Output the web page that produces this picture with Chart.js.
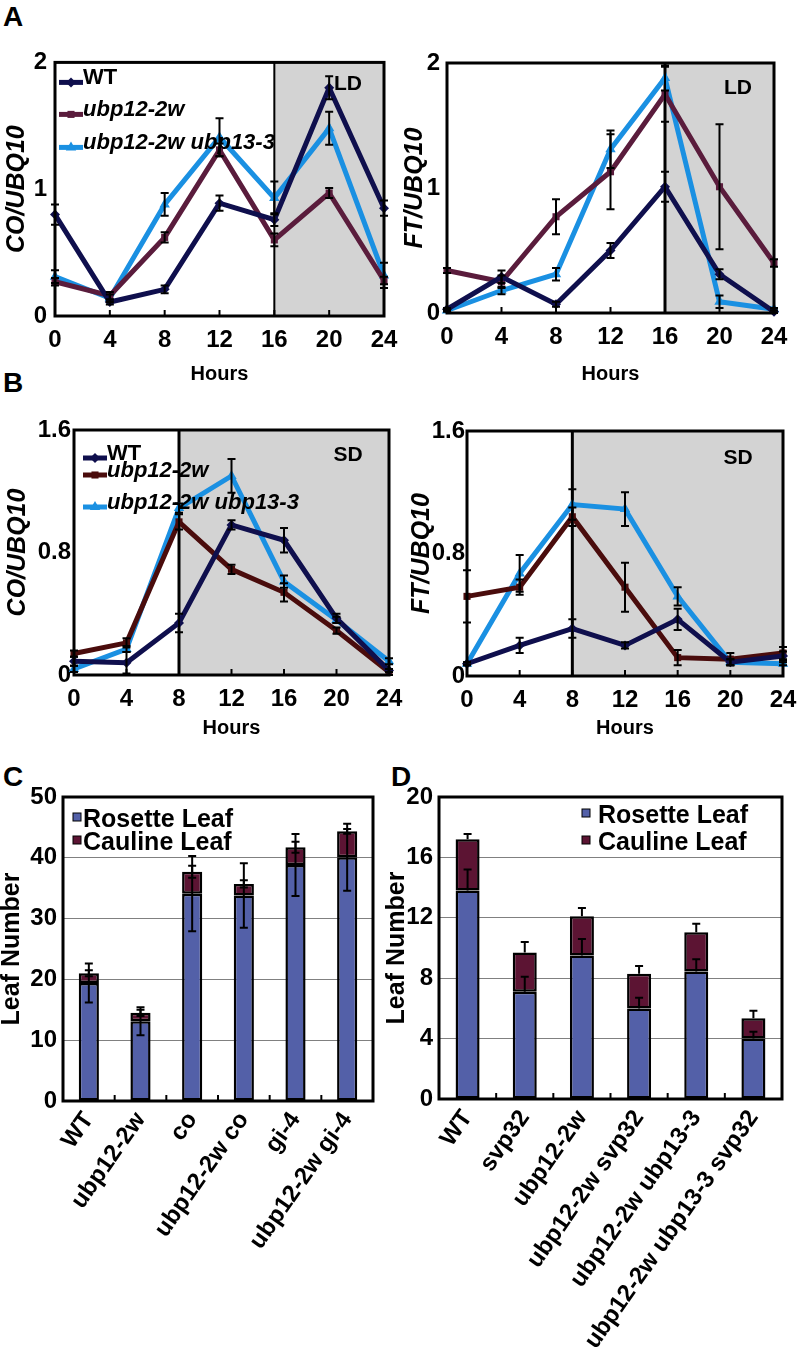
<!DOCTYPE html>
<html>
<head>
<meta charset="utf-8">
<script src="https://cdn.jsdelivr.net/npm/chart.js@4.4.0/dist/chart.umd.min.js"></script>
<style>
  body { margin: 0; background: #fff; }
  #fig { position: relative; width: 797px; height: 1356px; font-family: 'Liberation Sans', Arial, sans-serif; }
  .box { position: absolute; }
  .tag { position: absolute; font-weight: bold; font-size: 28px; line-height: 28px; }
</style>
</head>
<body>
<div id="fig">
  <div class="tag" style="left:3px;top:3px">A</div>
  <div class="tag" style="left:3px;top:369px">B</div>
  <div class="tag" style="left:3px;top:763px">C</div>
  <div class="tag" style="left:391px;top:763px">D</div>

  <div class="box" style="left:0;top:40px;width:402px;height:350px"><canvas id="coLD"></canvas></div>
  <div class="box" style="left:395px;top:40px;width:402px;height:350px"><canvas id="ftLD"></canvas></div>
  <div class="box" style="left:0;top:400px;width:405px;height:340px"><canvas id="coSD"></canvas></div>
  <div class="box" style="left:395px;top:400px;width:402px;height:340px"><canvas id="ftSD"></canvas></div>
  <div class="box" style="left:0;top:760px;width:395px;height:596px"><canvas id="leafC"></canvas></div>
  <div class="box" style="left:385px;top:760px;width:412px;height:596px"><canvas id="leafD"></canvas></div>
</div>

<script>
// ---- data ----
const hours = [0, 4, 8, 12, 16, 20, 24];
const seriesNames = ['WT', 'ubp12-2w', 'ubp12-2w ubp13-3'];
const yTicksLD = [0, 1, 2];
const yTicksSD = [0, 0.8, 1.6];

// A: long day
const coLD_wt     = [0.80, 0.11, 0.21, 0.89, 0.76, 1.80, 0.85];
const coLD_ubp12  = [0.27, 0.16, 0.62, 1.31, 0.60, 0.97, 0.28];
const coLD_double = [0.31, 0.14, 0.88, 1.41, 0.93, 1.48, 0.32];
const coLD_wtErr     = [0.08, 0.02, 0.03, 0.06, 0.05, 0.09, 0.06];
const coLD_ubp12Err  = [0.03, 0.03, 0.04, 0.05, 0.05, 0.04, 0.03];
const coLD_doubleErr = [0.05, 0.03, 0.09, 0.15, 0.13, 0.13, 0.10];

const ftLD_wt     = [0.03, 0.29, 0.07, 0.50, 1.01, 0.31, 0.01];
const ftLD_ubp12  = [0.34, 0.25, 0.77, 1.13, 1.75, 1.01, 0.40];
const ftLD_double = [0.02, 0.18, 0.31, 1.31, 1.88, 0.09, 0.03];
const ftLD_wtErr     = [0.01, 0.05, 0.02, 0.06, 0.12, 0.04, 0.01];
const ftLD_ubp12Err  = [0.02, 0.05, 0.14, 0.30, 0.22, 0.50, 0.03];
const ftLD_doubleErr = [0.01, 0.03, 0.05, 0.15, 0.10, 0.05, 0.01];

// B: short day
const coSD_wt     = [0.09, 0.08, 0.34, 0.98, 0.88, 0.37, 0.03];
const coSD_ubp12  = [0.14, 0.21, 1.00, 0.69, 0.54, 0.29, 0.02];
const coSD_double = [0.04, 0.17, 1.09, 1.30, 0.61, 0.36, 0.09];
const coSD_wtErr     = [0.03, 0.07, 0.06, 0.03, 0.08, 0.03, 0.01];
const coSD_ubp12Err  = [0.02, 0.03, 0.05, 0.03, 0.06, 0.02, 0.02];
const coSD_doubleErr = [0.02, 0.02, 0.03, 0.11, 0.04, 0.02, 0.02];

const ftSD_wt     = [0.08, 0.20, 0.31, 0.20, 0.37, 0.09, 0.13];
const ftSD_ubp12  = [0.52, 0.58, 1.04, 0.58, 0.12, 0.11, 0.15];
const ftSD_double = [0.08, 0.67, 1.12, 1.09, 0.52, 0.09, 0.08];
const ftSD_wtErr     = [0.01, 0.05, 0.06, 0.02, 0.07, 0.02, 0.03];
const ftSD_ubp12Err  = [0.17, 0.05, 0.06, 0.16, 0.05, 0.04, 0.04];
const ftSD_doubleErr = [0.01, 0.12, 0.10, 0.11, 0.06, 0.02, 0.01];

// C, D: leaf numbers
const leafLabels = ['Rosette Leaf', 'Cauline Leaf'];
const catC = ['WT', 'ubp12-2w', 'co', 'ubp12-2w co', 'gi-4', 'ubp12-2w gi-4'];
const rosetteC = [19.4, 13.1, 34.1, 33.8, 38.8, 40.1];
const caulineC = [1.6, 1.4, 3.6, 1.9, 2.95, 4.25];
const rosetteErrC = [3.2, 2.3, 6.2, 5.3, 5.1, 5.5];
const totalErrC = [0.5, 0.5, 1.0, 0.6, 0.9, 0.4];
const yTicksC = [0, 10, 20, 30, 40, 50];

const catD = ['WT', 'svp32', 'ubp12-2w', 'ubp12-2w svp32', 'ubp12-2w ubp13-3', 'ubp12-2w ubp13-3 svp32'];
const rosetteD = [13.8, 7.1, 9.5, 6.0, 8.45, 4.0];
const caulineD = [3.4, 2.6, 2.6, 2.3, 2.6, 1.35];
const rosetteErrD = [1.4, 1.0, 1.1, 0.7, 0.8, 0.45];
const totalErrD = [0.35, 0.7, 0.55, 0.5, 0.55, 0.5];
const yTicksD = [0, 4, 8, 12, 16, 20];

// ---- styles ----
const FONT = "'Liberation Sans', Arial, sans-serif";
const WT_COLOR = '#0f0f4d';
const DOUBLE_COLOR = '#1a90e2';
const ROSETTE_COLOR = '#5360a8';
const CAULINE_COLOR = '#5c1433';

Chart.defaults.font.family = FONT;
Chart.defaults.color = '#000';
Chart.defaults.animation = false;
Chart.defaults.maintainAspectRatio = false;
Chart.defaults.plugins.legend.display = false;
Chart.defaults.plugins.tooltip.enabled = false;

// shading, error bars, frame, in-plot legend and day tags
const decor = {
  id: 'decor',
  beforeDatasetsDraw(chart, args, o) {
    const { ctx, chartArea: a, scales: { x } } = chart;
    if (o.shadeFrom == null) return;
    const sx = x.getPixelForValue(o.shadeFrom);
    ctx.save();
    ctx.fillStyle = '#d3d3d3';
    ctx.fillRect(sx, a.top, a.right - sx, a.bottom - a.top);
    ctx.strokeStyle = '#000';
    ctx.lineWidth = o.shadeLine;
    ctx.beginPath();
    ctx.moveTo(sx, a.top);
    ctx.lineTo(sx, a.bottom);
    ctx.stroke();
    ctx.restore();
  },
  afterDatasetsDraw(chart, args, o) {
    const { ctx, chartArea: a, scales: { x, y } } = chart;
    ctx.save();
    ctx.strokeStyle = '#000';

    // error bars
    ctx.lineWidth = 2;
    const pts = chart.getDatasetMeta(0).data;
    (o.errors || []).forEach(set => {
      set.vals.forEach((v, i) => {
        const px = pts[i].x;
        const y0 = y.getPixelForValue(set.up ? v : v - set.err[i]);
        const y1 = y.getPixelForValue(v + set.err[i]);
        ctx.beginPath();
        ctx.moveTo(px, y0); ctx.lineTo(px, y1);
        ctx.moveTo(px - 4, y1); ctx.lineTo(px + 4, y1);
        if (!set.up) { ctx.moveTo(px - 4, y0); ctx.lineTo(px + 4, y0); }
        ctx.stroke();
      });
    });

    // small inward ticks on the bottom axis
    ctx.lineWidth = 2;
    (o.innerTicks || []).forEach(v => {
      const px = x.getPixelForValue(v);
      ctx.beginPath();
      ctx.moveTo(px, a.bottom); ctx.lineTo(px, a.bottom - 6);
      ctx.stroke();
    });

    // frame
    ctx.lineWidth = 3;
    ctx.strokeRect(a.left, a.top, a.right - a.left, a.bottom - a.top);

    // LD / SD
    if (o.tag) {
      ctx.fillStyle = '#000';
      ctx.font = 'bold 21px ' + FONT;
      ctx.textAlign = 'center';
      ctx.textBaseline = 'middle';
      ctx.fillText(o.tag.text, a.right - o.tag.dx, a.top + o.tag.dy);
    }

    // line legend
    if (o.lineLegend) {
      const L = o.lineLegend;
      chart.data.datasets.forEach((ds, i) => {
        const ly = a.top + L.rows[i];
        ctx.strokeStyle = ds.borderColor;
        ctx.lineWidth = 5;
        ctx.beginPath();
        ctx.moveTo(a.left + L.dx, ly); ctx.lineTo(a.left + L.dx + 24, ly);
        ctx.stroke();
        ctx.fillStyle = ds.borderColor;
        Chart.helpers.drawPoint(ctx, { pointStyle: ds.pointStyle, radius: ds.pointRadius, rotation: 0, borderWidth: 0 },
          a.left + L.dx + 12, ly);
        ctx.fillStyle = '#000';
        ctx.font = (i === 0 ? 'bold ' : 'italic bold ') + '22px ' + FONT;
        ctx.textAlign = 'left';
        ctx.textBaseline = 'middle';
        ctx.fillText(ds.label, a.left + L.textDx, ly - 4);
      });
    }

    // bar legend
    if (o.barLegend) {
      const L = o.barLegend;
      chart.data.datasets.forEach((ds, i) => {
        const ly = a.top + L.rows[i];
        ctx.fillStyle = ds.backgroundColor;
        ctx.fillRect(a.left + L.dx - 4, ly - 7, 8, 8);
        ctx.lineWidth = 1;
        ctx.strokeStyle = '#000';
        ctx.strokeRect(a.left + L.dx - 4, ly - 7, 8, 8);
        ctx.fillStyle = '#000';
        ctx.font = 'bold 25px ' + FONT;
        ctx.textAlign = 'left';
        ctx.textBaseline = 'middle';
        ctx.fillText(ds.label, a.left + L.textDx, ly);
      });
    }
    ctx.restore();
  }
};

function fixedTicks(list) {
  return s => { s.ticks = list.map(v => ({ value: v })); };
}

function lineChart(id, o) {
  const styles = [
    { color: WT_COLOR, point: 'rectRot', r: 5 },
    { color: o.ubpColor, point: 'rect', r: 5 },
    { color: DOUBLE_COLOR, point: 'triangle', r: 6 }
  ];
  return new Chart(document.getElementById(id), {
    type: 'line',
    data: {
      datasets: o.series.map((vals, i) => ({
        label: seriesNames[i],
        data: hours.map((h, j) => ({ x: h, y: vals[j] })),
        borderColor: styles[i].color,
        backgroundColor: styles[i].color,
        borderWidth: 5,
        pointStyle: styles[i].point,
        pointRadius: styles[i].r,
        pointBorderWidth: 0,
        clip: false
      }))
    },
    options: {
      layout: { padding: { top: o.padTop, right: o.padRight, left: 0, bottom: 0 } },
      scales: {
        x: {
          type: 'linear', min: 0, max: 24,
          afterBuildTicks: fixedTicks(hours),
          afterFit: s => { s.height = o.xHeight; s.paddingLeft = 0; s.paddingRight = 0; },
          grid: { display: false, drawTicks: false },
          border: { display: false },
          ticks: { autoSkip: false, maxRotation: 0, padding: 10, font: { size: 24, weight: 'bold' } },
          title: { display: true, text: 'Hours', font: { size: 20, weight: 'bold' }, padding: { top: 0, bottom: o.hoursPad } }
        },
        y: {
          min: 0, max: o.yMax,
          afterBuildTicks: fixedTicks(o.yTicks),
          afterFit: s => { s.width = o.yWidth; },
          grid: { display: false, drawTicks: false },
          border: { display: false },
          ticks: { padding: o.yTickPad, font: { size: 24, weight: 'bold' }, callback: v => String(v) },
          title: { display: true, text: o.yTitle, font: { size: 25, weight: 'bold', style: 'italic', lineHeight: 1 }, padding: { top: o.yTitlePad, bottom: 0 } }
        }
      },
      plugins: {
        decor: {
          shadeFrom: o.shadeFrom, shadeLine: o.shadeLine,
          errors: o.series.map((vals, i) => ({ vals, err: o.errs[i] })),
          innerTicks: hours.slice(1, -1),
          tag: o.tag,
          lineLegend: o.legend
        }
      }
    },
    plugins: [decor]
  });
}

function barChart(id, o) {
  const totals = o.rosette.map((v, i) => v + o.cauline[i]);
  return new Chart(document.getElementById(id), {
    type: 'bar',
    data: {
      labels: o.cats,
      datasets: [
        { label: leafLabels[0], data: o.rosette, backgroundColor: ROSETTE_COLOR },
        { label: leafLabels[1], data: o.cauline, backgroundColor: CAULINE_COLOR }
      ].map(d => Object.assign(d, {
        borderColor: '#000', borderWidth: 2.5, borderSkipped: false,
        barPercentage: o.barPct, categoryPercentage: 1
      }))
    },
    options: {
      layout: { padding: { top: o.padTop, right: o.padRight, left: 0, bottom: 0 } },
      scales: {
        x: {
          stacked: true,
          afterFit: s => { s.height = o.xHeight; s.paddingLeft = 0; s.paddingRight = 0; },
          grid: { display: false, drawTicks: false },
          border: { display: false },
          ticks: {
            autoSkip: false, minRotation: 55, maxRotation: 55, padding: 6,
            font: { size: 24, weight: 'bold' }
          }
        },
        y: {
          stacked: true, min: 0, max: o.yTicks[o.yTicks.length - 1],
          afterBuildTicks: fixedTicks(o.yTicks),
          afterFit: s => { s.width = o.yWidth; },
          grid: { color: '#808080', lineWidth: 1, drawTicks: false },
          border: { display: false },
          ticks: { padding: 6, font: { size: 24, weight: 'bold' } },
          title: { display: true, text: 'Leaf Number', font: { size: 25, weight: 'bold', lineHeight: 1 }, padding: { top: o.yTitlePad, bottom: 0 } }
        }
      },
      plugins: {
        decor: {
          errors: [
            { vals: o.rosette, err: o.rosetteErr, up: o.upOnly },
            { vals: totals, err: o.totalErr, up: o.upOnly }
          ],
          innerTicks: o.cats.slice(1).map((c, i) => i + 0.5),
          barLegend: o.legend
        }
      }
    },
    plugins: [decor]
  });
}

lineChart('coLD', {
  series: [coLD_wt, coLD_ubp12, coLD_double], errs: [coLD_wtErr, coLD_ubp12Err, coLD_doubleErr],
  ubpColor: '#5a1c3c', yMax: 2, yTicks: yTicksLD, yTitle: 'CO/UBQ10',
  padTop: 20, padRight: 18, yWidth: 55, xHeight: 74, yTickPad: 8, yTitlePad: 5, hoursPad: 4,
  shadeFrom: 16, shadeLine: 2, tag: { text: 'LD', dx: 36, dy: 22 },
  legend: { dx: 4, textDx: 28, rows: [20, 52, 85] }
});
lineChart('ftLD', {
  series: [ftLD_wt, ftLD_ubp12, ftLD_double], errs: [ftLD_wtErr, ftLD_ubp12Err, ftLD_doubleErr],
  ubpColor: '#5a1c3c', yMax: 2, yTicks: yTicksLD, yTitle: 'FT/UBQ10',
  padTop: 23, padRight: 23, yWidth: 52, xHeight: 77, yTickPad: 7, yTitlePad: 8, hoursPad: 4,
  shadeFrom: 16, shadeLine: 3, tag: { text: 'LD', dx: 36, dy: 25 }
});
lineChart('coSD', {
  series: [coSD_wt, coSD_ubp12, coSD_double], errs: [coSD_wtErr, coSD_ubp12Err, coSD_doubleErr],
  ubpColor: '#4a0c0c', yMax: 1.6, yTicks: yTicksSD, yTitle: 'CO/UBQ10',
  padTop: 30, padRight: 16, yWidth: 74, xHeight: 65, yTickPad: 3, yTitlePad: 6, hoursPad: 0,
  shadeFrom: 8, shadeLine: 3, tag: { text: 'SD', dx: 41, dy: 25 },
  legend: { dx: 9, textDx: 33, rows: [28, 45, 77] }
});
lineChart('ftSD', {
  series: [ftSD_wt, ftSD_ubp12, ftSD_double], errs: [ftSD_wtErr, ftSD_ubp12Err, ftSD_doubleErr],
  ubpColor: '#4a0c0c', yMax: 1.6, yTicks: yTicksSD, yTitle: 'FT/UBQ10',
  padTop: 31, padRight: 14, yWidth: 72, xHeight: 64, yTickPad: 2, yTitlePad: 15, hoursPad: 0,
  shadeFrom: 8, shadeLine: 3, tag: { text: 'SD', dx: 45, dy: 27 }
});

barChart('leafC', {
  cats: catC, rosette: rosetteC, cauline: caulineC, rosetteErr: rosetteErrC, totalErr: totalErrC,
  yTicks: yTicksC, upOnly: false, barPct: 0.39,
  padTop: 37, padRight: 22, yWidth: 63, xHeight: 255, yTitlePad: 0,
  legend: { dx: 14, textDx: 20, rows: [23, 46] }
});
barChart('leafD', {
  cats: catD, rosette: rosetteD, cauline: caulineD, rosetteErr: rosetteErrD, totalErr: totalErrD,
  yTicks: yTicksD, upOnly: true, barPct: 0.42,
  padTop: 37, padRight: 15, yWidth: 54, xHeight: 257, yTitlePad: 0,
  legend: { dx: 147, textDx: 159, rows: [19, 46] }
});
</script>
</body>
</html>
